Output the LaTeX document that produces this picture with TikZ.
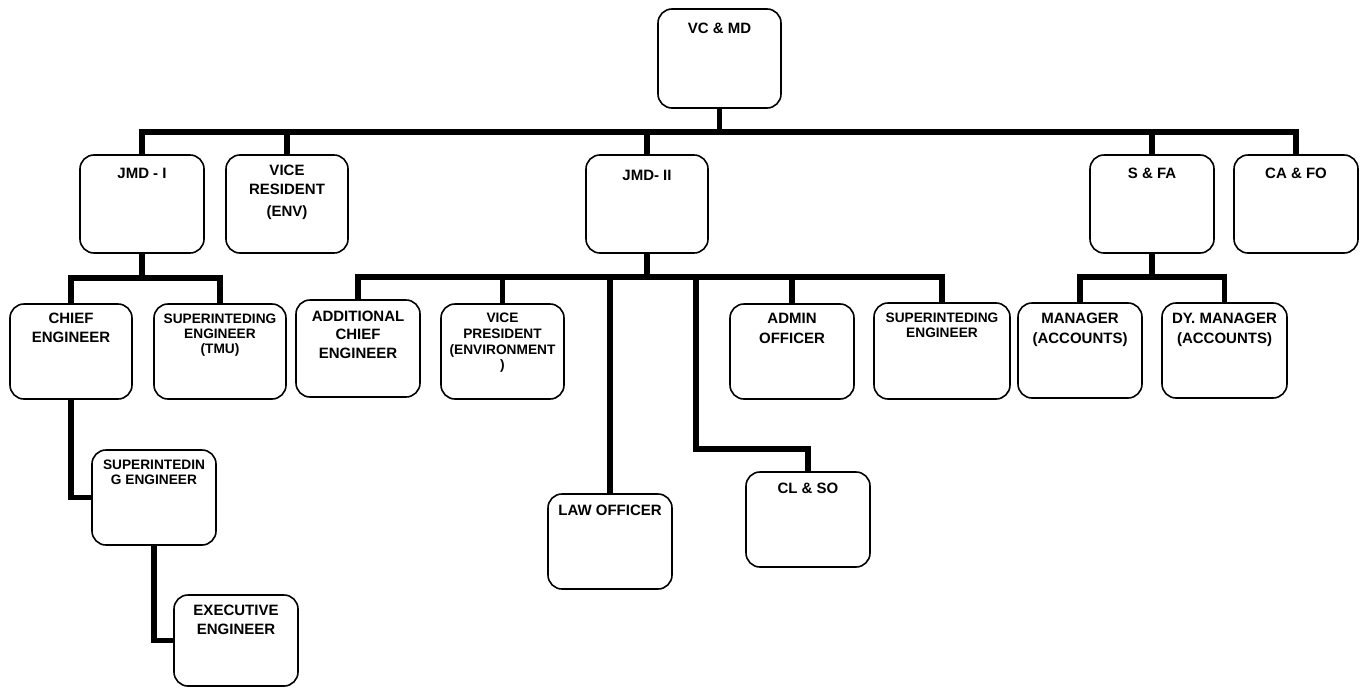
\documentclass[tikz,border=0pt]{standalone}
\usepackage{fontspec}
\setmainfont{Liberation Sans}
\begin{document}
\begin{tikzpicture}[x=1pt,y=-1pt,
  orgbox/.style={draw=black,line width=1.6pt,rounded corners=14pt,inner sep=0pt,outer sep=0pt,fill=white},
  bigtxt/.style={anchor=north,inner sep=0pt,align=center,font=\fontsize{15}{19}\selectfont\bfseries},
  smalltxt/.style={anchor=north,inner sep=0pt,align=center,font=\fontsize{13.7}{15}\selectfont\bfseries},
  tighttxt/.style={anchor=north,inner sep=0pt,align=center,font=\fontsize{13.7}{14.3}\selectfont\bfseries},
  conn/.style={draw=black,line width=5.5pt,line join=miter,line cap=butt}]
\useasboundingbox (0,0) rectangle (1364,688);
% coordinates for buses
\coordinate (busA) at (0,132);
\coordinate (busB) at (0,278);
\coordinate (busC) at (0,277);
\coordinate (busD) at (0,277);
\coordinate (clbend) at (0,449);
\coordinate (cldrop) at (696,277);
% connectors first (boxes drawn over)
% boxes
\node[orgbox,minimum width=123pt,minimum height=99pt] (vc) at (719.5,58.5) {};
\node[orgbox,minimum width=124pt,minimum height=98pt] (jmd1) at (142,204) {};
\node[orgbox,minimum width=122pt,minimum height=98pt] (vres) at (287,204) {};
\node[orgbox,minimum width=122pt,minimum height=98pt] (jmd2) at (647,204) {};
\node[orgbox,minimum width=124pt,minimum height=98pt] (sfa) at (1152,204) {};
\node[orgbox,minimum width=124pt,minimum height=98pt] (cafo) at (1296,204) {};
\node[orgbox,minimum width=122pt,minimum height=95pt] (chief) at (71,351.5) {};
\node[orgbox,minimum width=132pt,minimum height=95pt] (tmu) at (220,351.5) {};
\node[orgbox,minimum width=124pt,minimum height=97pt] (add) at (358,348.5) {};
\node[orgbox,minimum width=123pt,minimum height=95pt] (vp) at (502.5,351.5) {};
\node[orgbox,minimum width=124pt,minimum height=95pt] (admin) at (792,351.5) {};
\node[orgbox,minimum width=136pt,minimum height=96pt] (sup2) at (942,351) {};
\node[orgbox,minimum width=124pt,minimum height=95pt] (mgr) at (1080,350.5) {};
\node[orgbox,minimum width=125pt,minimum height=95pt] (dymgr) at (1224.5,350.5) {};
\node[orgbox,minimum width=124pt,minimum height=95pt] (law) at (610,541.5) {};
\node[orgbox,minimum width=124pt,minimum height=95pt] (clso) at (808,519.5) {};
\node[orgbox,minimum width=124pt,minimum height=95pt] (se) at (154,497.5) {};
\node[orgbox,minimum width=124pt,minimum height=91pt] (ee) at (236,640.5) {};
% connectors
\draw[conn] (jmd1.north) -- (jmd1.north |- busA) -- (cafo.north |- busA) -- (cafo.north);
\draw[conn] (vc.south) -- (vc.south |- busA);
\draw[conn] (vres.north) -- (vres.north |- busA);
\draw[conn] (jmd2.north) -- (jmd2.north |- busA);
\draw[conn] (sfa.north) -- (sfa.north |- busA);
\draw[conn] (chief.north) -- (chief.north |- busB) -- (tmu.north |- busB) -- (tmu.north);
\draw[conn] (jmd1.south) -- (jmd1.south |- busB);
\draw[conn] (add.north) -- (add.north |- busC) -- (sup2.north |- busC) -- (sup2.north);
\draw[conn] (jmd2.south) -- (jmd2.south |- busC);
\draw[conn] (vp.north) -- (vp.north |- busC);
\draw[conn] (law.north) -- (law.north |- busC);
\draw[conn] (admin.north) -- (admin.north |- busC);
\draw[conn] (cldrop) -- (cldrop |- clbend) -- (clso.north |- clbend) -- (clso.north);
\draw[conn] (mgr.north) -- (mgr.north |- busD) -- (dymgr.north |- busD) -- (dymgr.north);
\draw[conn] (sfa.south) -- (sfa.south |- busD);
\draw[conn] (chief.south) |- (se.west);
\draw[conn] (se.south) |- (ee.west);
% texts
\node[bigtxt] (vct) at ([yshift=-14pt]vc.north) {VC \& MD};
\node[bigtxt] (jmd1t) at ([yshift=-13pt]jmd1.north) {JMD - I};
\node[bigtxt] (vrest) at ([yshift=-10pt]vres.north) {VICE\\RESIDENT\\[3pt](ENV)};
\node[bigtxt] (jmd2t) at ([yshift=-15pt]jmd2.north) {JMD- II};
\node[bigtxt] (sfat) at ([yshift=-13pt]sfa.north) {S \& FA};
\node[bigtxt] (cafot) at ([yshift=-13pt]cafo.north) {CA \& FO};
\node[bigtxt] (chieft) at ([yshift=-9pt]chief.north) {CHIEF\\ENGINEER};
\node[smalltxt] (tmut) at ([yshift=-10pt]tmu.north) {SUPERINTEDING\\ENGINEER\\(TMU)};
\node[bigtxt,font=\fontsize{15}{18.3}\selectfont\bfseries] (addt) at ([yshift=-11pt]add.north) {ADDITIONAL\\CHIEF\\ENGINEER};
\node[smalltxt,font=\fontsize{13.7}{15.7}\selectfont\bfseries] (vpt) at ([yshift=-9pt]vp.north) {VICE\\PRESIDENT\\(ENVIRONMENT\\)};
\node[bigtxt,font=\fontsize{15}{20}\selectfont\bfseries] (admint) at ([yshift=-9pt]admin.north) {ADMIN\\OFFICER};
\node[tighttxt] (sup2t) at ([yshift=-10pt]sup2.north) {SUPERINTEDING\\ENGINEER};
\node[bigtxt,font=\fontsize{15}{20}\selectfont\bfseries] (mgrt) at ([yshift=-10pt]mgr.north) {MANAGER\\(ACCOUNTS)};
\node[bigtxt,font=\fontsize{15}{20}\selectfont\bfseries] (dymgrt) at ([yshift=-10pt]dymgr.north) {DY. MANAGER\\(ACCOUNTS)};
\node[bigtxt] (lawt) at ([yshift=-11pt]law.north) {LAW OFFICER};
\node[bigtxt] (clsot) at ([yshift=-11pt]clso.north) {CL \& SO};
\node[tighttxt] (set) at ([yshift=-10pt]se.north) {SUPERINTEDIN\\G ENGINEER};
\node[bigtxt] (eet) at ([yshift=-10pt]ee.north) {EXECUTIVE\\ENGINEER};
\end{tikzpicture}
\end{document}
